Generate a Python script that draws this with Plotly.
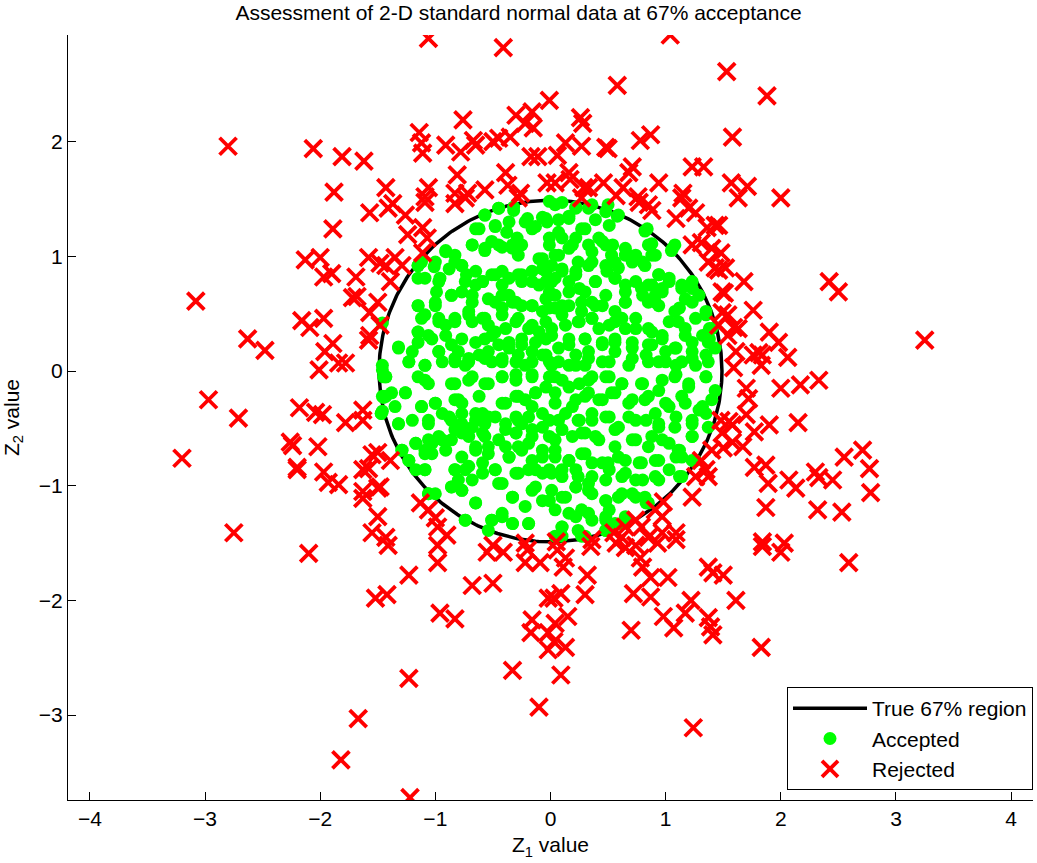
import numpy as np
import plotly.graph_objects as go

title_text = "Assessment of 2-D standard normal data at 67% acceptance"
x_ticks = [-4, -3, -2, -1, 0, 1, 2, 3, 4]
y_ticks = [-3, -2, -1, 0, 1, 2]
region_radius = [1.489]

accepted_x_a = [
 -0.57,-0.45,-0.32,-0.20,-0.07,-0.03,-0.16,-0.62,-0.48,-0.38,-0.29,-0.68,-0.57,-0.51,-0.42,-0.33,-0.28,-0.07,-0.01,-0.91,
 -0.83,-1.01,-1.15,-0.96,-0.77,-0.73,-0.65,-0.59,-0.99,-0.86,-0.77,-0.68,-0.51,-0.42,-0.42,-0.36,-0.28,-0.25,-0.16,-0.04,
 -0.10,-0.01,-0.48,-0.42,-0.33,-0.25,-0.16,-0.07,-0.01,-1.15,-1.00,-1.09,-0.97,-0.91,-0.83,-0.71,-0.68,-0.59,-0.54,-0.48,
 -0.57,-0.39,-0.30,-0.19,-0.10,-0.04,-1.15,-1.06,-1.15,-1.32,-1.20,-0.97,-0.86,-0.80,-0.71,-0.62,-0.54,-0.45,-0.36,-0.25,
 -0.16,-0.07,-1.23,-1.09,-0.94,-0.83,-0.74,-0.51,-0.42,-0.30,-0.22,-0.01,-1.46,-1.12,-1.15,-1.46,-1.45,-1.45,-1.47,
 0.04,0.22,0.36,0.50,0.59,0.84,0.16,0.30,0.07,0.22,0.42,0.48,0.36,0.16,0.04,0.24,0.36,0.53,0.65,0.74,
 0.85,0.91,0.82,0.71,0.59,0.49,0.39,0.22,0.10,0.01,0.16,0.30,0.36,0.45,0.56,0.65,0.79,0.85,0.94,0.97,
 0.91,1.03,1.06,1.08,1.23,1.14,1.17,1.29,1.35,1.26,1.08,0.94,0.85,0.65,0.56,0.27,0.16,0.04,0.01,0.13,
 0.24,0.36,0.42,0.56,0.65,0.74,0.85,0.97,1.11,1.17,1.32,1.40,1.37,1.43,1.23,1.08,1.00,0.88,0.71,0.56,
 0.45,0.30,0.16,0.07,0.22,0.33,0.45,0.56,0.71,0.85,1.00,1.14,1.26,1.37,0.01,0.16,0.30,
 -1.43,-1.09,-0.86,-0.68,-0.54,-0.42,-0.30,-0.16,-0.04,-1.46,-1.38,-1.26,-1.35,-1.47,-1.12,-1.00,-0.94,-0.83,-0.77,-0.65,
 -0.59,-0.48,-0.39,-0.30,-0.22,-0.13,-0.16,-0.07,-0.30,-0.25,-0.16,-0.07,-1.32,-1.20,-1.06,-0.86,-0.77,-0.68,-0.57,-0.39,
 -0.30,-0.77,-0.86,-0.94,-1.03,-1.17,-1.29,-1.23,-1.09,-1.03,-0.65,-0.54,-0.57,-0.39,-0.28,-0.19,-0.07,-0.36,-0.16,-0.83,
 -0.74,-0.59,-0.48,-0.30,-0.19,-0.07,-1.17,-1.09,-0.80,-0.68,-0.45,-0.13,-1.06,-1.00,-0.86,-0.77,-0.65,-0.33,-0.22,-0.07,
 -0.42,-0.51,-0.74,-0.54,-0.33,-0.19,
 0.04,0.16,0.33,0.48,0.62,0.79,0.94,1.08,1.20,1.35,1.43,0.04,0.19,0.30,0.42,0.53,0.68,0.82,0.91,1.03,
 1.17,1.29,1.40,0.07,0.24,0.36,0.48,0.59,0.74,0.94,1.08,1.23,1.37,1.23,0.04,0.19,0.30,0.42,0.56,0.71,
 0.85,0.97,1.11,1.26,1.14,0.04,0.16,0.27,0.36,0.50,0.65,0.79,0.94,1.03,1.14,0.01,0.10,0.24,0.33,0.48,
 0.65,0.74,0.91,0.01,0.13,0.22,0.36,0.48,0.59,0.71,0.82,0.85,0.04,0.16,0.27,0.36,0.48,0.56,0.68,0.10,
 0.24,0.48,0.30,0.10,
]
accepted_y_a = [
 1.36,1.42,1.43,1.33,1.34,1.30,1.24,1.24,1.26,1.21,1.16,1.10,1.05,1.13,1.08,1.07,1.10,0.98,1.10,1.04,
 0.95,0.91,0.92,0.81,0.92,0.84,0.75,0.78,0.69,0.66,0.69,0.66,0.84,0.87,0.75,0.66,0.84,0.78,0.87,0.87,
 0.75,0.69,0.60,0.55,0.60,0.57,0.57,0.52,0.55,0.57,0.60,0.49,0.46,0.40,0.43,0.52,0.43,0.46,0.40,0.34,
 0.28,0.37,0.43,0.37,0.34,0.28,0.34,0.31,0.25,0.20,0.17,0.17,0.23,0.17,0.11,0.14,0.17,0.23,0.20,0.23,
 0.17,0.14,0.08,0.05,0.08,0.08,0.05,0.08,0.11,0.08,0.05,0.08,0.05,0.95,0.81,0.42,-0.05,-0.23,-0.37,
 1.45,1.42,1.45,1.45,1.36,1.24,1.33,1.24,1.21,1.16,1.16,1.10,1.04,1.07,1.01,0.95,0.95,1.01,1.01,1.01,
 1.10,1.01,0.92,0.95,0.90,0.87,0.78,0.84,0.87,0.78,0.69,0.69,0.60,0.57,0.81,0.69,0.72,0.75,0.84,0.72,
 0.66,0.78,1.07,1.10,0.78,0.72,0.63,0.66,0.52,0.46,0.52,0.57,0.60,0.60,0.52,0.52,0.57,0.55,0.37,0.40,
 0.43,0.46,0.37,0.43,0.37,0.46,0.37,0.31,0.43,0.31,0.31,0.37,0.25,0.20,0.17,0.20,0.17,0.23,0.25,0.28,
 0.25,0.28,0.28,0.20,0.14,0.17,0.08,0.17,0.11,0.08,0.08,0.08,0.05,0.08,0.05,0.05,0.05,
 -0.05,-0.08,-0.11,-0.05,-0.11,-0.05,-0.03,-0.05,-0.14,-0.22,-0.19,-0.19,-0.31,-0.37,-0.31,-0.28,-0.37,-0.25,-0.28,-0.37,
 -0.37,-0.40,-0.28,-0.22,-0.25,-0.19,-0.31,-0.37,-0.40,-0.46,-0.51,-0.49,-0.46,-0.43,-0.46,-0.43,-0.46,-0.49,-0.46,-0.51,
 -0.54,-0.54,-0.60,-0.60,-0.63,-0.63,-0.69,-0.78,-0.69,-0.72,-0.66,-0.66,-0.57,-0.66,-0.66,-0.63,-0.69,-0.75,-0.78,-0.86,
 -0.86,-0.80,-0.86,-0.89,-0.86,-0.89,-0.86,-0.86,-0.95,-0.95,-0.98,-1.01,-1.07,-1.07,-1.01,-1.04,-1.15,-1.10,-1.18,-1.13,
 -1.27,-1.30,-1.30,-1.39,-1.33,-1.33,
 -0.05,-0.14,-0.08,-0.05,-0.11,-0.11,-0.17,-0.05,-0.14,-0.05,-0.17,-0.28,-0.31,-0.22,-0.25,-0.19,-0.28,-0.25,-0.37,-0.31,
 -0.28,-0.34,-0.25,-0.43,-0.43,-0.37,-0.40,-0.49,-0.43,-0.46,-0.49,-0.43,-0.49,-0.57,-0.60,-0.57,-0.54,-0.60,-0.66,-0.60,
 -0.66,-0.60,-0.69,-0.78,-0.75,-0.75,-0.78,-0.72,-0.80,-0.80,-0.78,-0.80,-0.78,-0.86,-0.92,-0.89,-0.86,-0.92,-0.98,-0.95,
 -0.89,-0.95,-0.92,-1.04,-1.10,-1.01,-1.07,-1.13,-1.10,-1.07,-1.10,-1.15,-1.21,-1.24,-1.21,-1.30,-1.27,-1.33,-1.30,-1.36,
 -1.39,-1.39,-1.44,-1.44,
]

accepted_x_b = [
 -0.45,-0.32,-0.57,-0.01,0.10,0.22,0.33,0.48,0.58,
 -0.65,-0.48,-0.36,-0.22,-0.13,-0.04,0.07,0.16,0.27,0.39,0.51,0.82,
 -0.68,-0.57,-0.45,-0.33,-0.25,-0.28,-0.01,0.10,0.19,0.33,0.45,0.54,0.65,0.88,1.05,0.07,-0.10,
 -0.91,-0.83,-1.00,-0.88,-0.77,-0.65,-1.15,-0.07,0.01,0.10,0.22,0.33,0.48,0.56,0.68,0.80,0.88,0.94,1.03,
 -1.09,-0.97,-0.74,-0.59,-0.48,-0.36,-0.25,-0.16,-0.04,0.04,0.16,0.25,0.39,0.56,0.65,0.74,0.88,0.97,1.14,1.23,
 -1.15,-1.00,-0.86,-0.68,-0.54,-0.42,-0.30,-0.16,-0.04,0.04,0.10,0.27,0.39,0.48,0.65,0.80,0.91,1.12,1.23,
 -1.12,-0.97,-0.83,-0.71,-0.57,-0.42,-0.28,-0.16,-0.04,0.10,0.25,0.36,0.51,0.62,0.74,0.88,1.03,1.17,1.35,1.38,
 -1.32,-1.15,-1.03,-0.91,-0.77,-0.65,-0.51,-0.36,-0.25,-0.13,0.01,0.16,0.30,0.45,0.56,0.71,0.85,0.97,1.09,1.23,1.38,
 -1.46,-1.23,-1.09,-0.97,-0.83,-0.71,-0.57,-0.42,-0.28,-0.16,-0.04,0.07,0.22,0.33,0.51,0.68,0.83,0.94,1.09,1.23,1.35,
 -1.43,-1.15,-1.06,-0.83,-0.71,-0.57,-0.42,-0.30,-0.16,-0.01,0.10,0.25,0.36,0.51,0.62,0.80,0.97,1.09,1.20,1.35,
 -1.43,-1.26,-1.12,-1.00,-0.80,-0.62,-0.42,-0.28,-0.13,0.04,0.22,0.33,0.45,0.56,0.71,0.85,1.00,1.14,1.32,
 -1.46,-1.32,-1.06,-0.88,-0.77,-0.65,-0.54,-0.39,-0.28,-0.19,-0.01,0.13,0.25,0.36,0.51,0.68,0.83,0.94,1.09,1.23,1.35,
 -1.17,-1.06,-0.97,-0.83,-0.71,-0.59,-0.45,-0.30,-0.16,-0.01,0.10,0.27,0.39,0.56,0.74,0.88,1.03,1.23,1.12,
 -1.29,-1.23,-1.09,-0.91,-0.77,-0.65,-0.54,-0.36,-0.25,-0.07,0.04,0.16,0.30,0.45,0.59,0.77,0.91,1.09,1.23,
 -1.09,-0.83,-0.71,-0.59,-0.48,-0.28,-0.13,-0.01,0.10,0.22,0.36,0.51,0.62,0.80,0.94,1.12,
 -1.06,-0.86,-0.77,-0.65,-0.42,-0.33,-0.16,-0.01,0.10,0.22,0.33,0.48,0.62,0.74,0.83,0.51,
 -0.74,-0.51,-0.42,-0.33,-0.19,0.10,0.22,0.33,0.48,0.65,
 0.04,0.27,0.48,0.62,
]
accepted_y_b = [
 1.42,1.40,1.36,1.48,1.47,1.43,1.42,1.39,1.35,
 1.24,1.27,1.30,1.30,1.26,1.33,1.32,1.35,1.24,1.32,1.27,1.22,
 1.10,1.07,1.10,1.10,1.10,1.01,1.16,1.16,1.10,1.10,1.13,1.10,1.07,1.11,1.05,1.01,0.98,
 1.05,1.01,0.95,0.89,0.92,0.87,0.92,0.89,0.92,0.89,0.87,0.92,0.92,0.95,1.01,0.95,1.01,0.84,0.81,
 0.81,0.78,0.78,0.78,0.84,0.81,0.84,0.78,0.78,0.81,0.78,0.72,0.78,0.81,0.75,0.78,0.75,0.69,0.75,0.72,
 0.57,0.57,0.66,0.60,0.63,0.66,0.60,0.57,0.63,0.66,0.57,0.60,0.57,0.66,0.60,0.66,0.60,0.55,0.60,
 0.46,0.43,0.46,0.49,0.46,0.49,0.46,0.40,0.43,0.49,0.43,0.46,0.40,0.46,0.37,0.34,0.43,0.37,0.49,0.37,
 0.21,0.34,0.28,0.31,0.28,0.25,0.31,0.25,0.28,0.25,0.31,0.23,0.28,0.23,0.25,0.20,0.23,0.28,0.20,0.25,0.28,
 0.01,0.08,0.05,0.17,0.11,0.08,0.11,0.08,0.14,0.08,0.14,0.08,0.05,0.11,0.08,0.05,0.14,0.08,0.05,0.11,0.14,
 -0.05,-0.05,-0.11,-0.11,-0.08,-0.11,-0.05,-0.08,-0.03,-0.05,-0.08,-0.11,-0.05,-0.05,-0.11,-0.11,-0.08,-0.03,-0.11,-0.05,
 -0.22,-0.19,-0.31,-0.28,-0.25,-0.22,-0.28,-0.22,-0.19,-0.19,-0.25,-0.19,-0.25,-0.19,-0.25,-0.22,-0.28,-0.22,-0.31,
 -0.35,-0.46,-0.43,-0.40,-0.37,-0.43,-0.40,-0.46,-0.43,-0.40,-0.43,-0.37,-0.43,-0.43,-0.40,-0.40,-0.43,-0.49,-0.40,-0.46,-0.37,
 -0.63,-0.60,-0.57,-0.51,-0.57,-0.54,-0.60,-0.54,-0.57,-0.57,-0.51,-0.54,-0.57,-0.51,-0.60,-0.57,-0.63,-0.57,-0.69,
 -0.69,-0.78,-0.72,-0.69,-0.75,-0.69,-0.72,-0.75,-0.69,-0.75,-0.69,-0.78,-0.72,-0.80,-0.75,-0.80,-0.78,-0.75,-0.78,
 -0.86,-0.86,-0.83,-0.89,-0.86,-0.89,-0.86,-0.86,-0.92,-0.86,-0.92,-0.86,-0.92,-0.95,-0.95,-0.92,
 -1.07,-1.01,-1.04,-1.15,-0.98,-1.10,-1.04,-1.13,-1.10,-1.01,-1.04,-1.13,-1.07,-1.10,-1.15,-1.21,
 -1.30,-1.30,-1.24,-1.33,-1.33,-1.36,-1.27,-1.24,-1.30,-1.27,
 -1.44,-1.44,-1.39,-1.33,
]

rejected_x = [
 -1.06,-0.41,-0.01,-0.30,-0.16,-0.22,-0.15,-0.76,-1.14,-1.12,-1.11,-0.91,-0.78,-0.67,-0.65,-0.50,-0.45,-0.35,-0.17,-0.11,
 -2.80,-2.06,-1.81,-1.62,-1.88,-1.43,-1.06,-1.09,-0.81,-0.83,-0.72,-0.57,-0.39,-0.37,-0.26,-0.03,-1.37,
 1.04,1.53,0.58,1.88,0.26,0.28,0.13,0.27,0.06,0.48,0.50,0.78,0.87,1.58,0.16,0.71,0.68,1.23,1.33,
 1.57,1.71,0.04,0.17,0.29,0.33,0.46,0.63,0.94,1.15,0.76,2.00,1.63,
 -1.57,-1.89,-2.13,-2.00,-1.97,-1.90,-1.69,-1.58,-1.48,-1.72,-1.68,-1.50,-1.57,-1.57,-1.58,-3.08,-2.16,-2.09,-1.97,-2.63,
 -2.48,-1.89,-1.96,-1.84,-1.78,-2.01,-2.97,-2.71,-2.18,-2.04,-1.98,-1.78,-1.63,-1.63,-3.20,-2.26,-2.24,-2.02,-2.20,-2.20,
 -1.97,-1.93,-1.84,-1.63,-1.58,-1.55,-1.63,-1.63,-1.50,-1.50,-1.55,-2.75,
 1.46,1.48,1.52,1.46,1.68,1.51,2.42,2.50,1.76,1.54,1.59,1.63,1.54,1.90,1.98,1.61,1.76,1.81,1.84,1.83,
 2.06,1.59,3.25,1.70,1.72,2.00,2.17,2.33,1.55,1.58,1.70,1.77,1.90,2.15,1.50,1.58,1.67,1.77,1.87,1.89,
 2.07,2.13,2.30,2.33,2.45,2.55,2.71,2.77,2.78,1.87,2.32,2.53,1.84,2.03,
 -2.10,-1.41,-0.98,-0.98,-0.55,-0.41,-0.20,-0.22,-0.09,-1.23,-1.52,-1.42,-0.68,-0.50,-0.96,-0.83,-0.16,-0.17,-0.02,-0.02,
 -0.02,-0.33,-1.23,-0.10,-1.67,-1.82,-1.22,
 0.06,0.13,0.11,0.35,0.57,0.65,0.74,0.93,1.09,0.78,0.80,0.32,0.87,1.02,1.37,1.41,1.50,1.84,2.00,2.59,
 0.09,0.03,0.30,0.72,0.87,1.22,1.61,0.98,1.17,1.07,1.37,1.39,1.41,0.15,0.04,0.70,1.83,0.03,0.13,0.09,1.24,
 -1.41,-1.26,-1.09,-0.83,-0.74,-0.28,-1.24,-1.11,-1.07,-1.11,-1.35,-1.43,-1.29,-1.39,-1.48,
 0.27,0.57,0.77,0.85,0.88,1.14,1.20,1.26,1.09,1.36,1.43,1.23,1.31,1.40,1.37,1.43,1.49,1.46,1.49,
 -1.50,-1.39,-1.48,-1.13,-1.06,-1.00,-0.98,-0.90,-1.43,-0.50,-0.22,
 1.48,1.49,1.40,1.31,1.35,1.26,1.37,1.23,0.98,0.91,0.97,0.74,0.79,0.65,0.55,0.62,0.85,1.09,0.97,0.36,0.05,
]
rejected_y = [
 2.90,2.82,2.36,2.23,2.26,2.16,2.12,2.19,2.08,1.99,1.90,1.97,1.91,2.01,1.97,2.00,2.03,2.04,1.87,1.87,
 1.96,1.94,1.87,1.83,1.56,1.60,1.60,1.52,1.71,1.55,1.55,1.58,1.73,1.62,1.55,1.64,1.46,
 2.93,2.61,2.49,2.40,2.21,2.16,1.99,1.96,1.88,1.95,1.94,2.01,2.06,2.04,1.73,1.78,1.73,1.78,1.78,
 1.64,1.61,1.64,1.67,1.60,1.60,1.64,1.60,1.64,1.55,1.52,1.51,1.51,
 1.38,1.24,0.97,0.99,0.82,0.85,0.82,0.99,0.94,0.64,0.65,0.60,0.51,0.31,0.27,0.61,0.44,0.38,0.46,0.28,
 0.18,0.24,0.17,0.07,0.07,0.01,-0.25,-0.41,-0.32,-0.36,-0.38,-0.45,-0.34,-0.43,-0.76,-0.62,-0.65,-0.66,-0.84,-0.86,
 -0.88,-0.97,-0.99,-0.86,-0.85,-0.73,-1.05,-1.11,-1.02,-1.27,-1.41,-1.41,
 1.27,1.03,0.90,0.88,0.78,0.68,0.78,0.69,0.53,0.49,0.38,0.37,0.31,0.34,0.25,0.17,0.14,0.16,0.14,0.05,
 0.12,0.03,0.27,-0.15,-0.24,-0.15,-0.12,-0.08,-0.44,-0.47,-0.38,-0.53,-0.47,-0.45,-0.67,-0.62,-0.66,-0.84,-0.82,-0.98,
 -0.95,-1.02,-0.88,-0.93,-0.95,-0.75,-0.69,-0.85,-1.06,-1.19,-1.21,-1.23,-1.49,-1.50,
 -1.59,-1.52,-1.52,-1.67,-1.58,-1.58,-1.56,-1.67,-1.67,-1.78,-1.98,-1.95,-1.87,-1.85,-2.11,-2.16,-2.17,-2.28,-1.98,-2.28,
 -2.43,-2.61,-2.68,-2.93,-3.03,-3.39,-3.72,
 -1.56,-1.63,-1.71,-1.53,-1.50,-1.54,-1.52,-1.50,-1.47,-1.63,-1.71,-1.78,-1.80,-1.80,-1.71,-1.76,-1.78,-1.53,-1.58,-1.67,
 -1.94,-1.98,-1.95,-1.94,-1.97,-2.00,-2.00,-2.14,-2.11,-2.24,-2.15,-2.23,-2.30,-2.14,-2.20,-2.26,-2.41,-2.36,-2.41,-2.65,-3.11,
 1.42,1.36,1.47,1.46,1.51,1.51,1.19,1.25,1.16,1.03,0.99,0.92,0.92,0.78,0.40,
 1.51,1.53,1.47,1.45,1.40,1.51,1.42,1.38,1.33,1.25,1.27,1.10,1.12,1.07,0.95,0.90,0.69,0.40,0.51,
 -0.71,-0.78,-1.01,-1.15,-1.21,-1.28,-1.36,-1.43,-1.45,-1.52,-1.50,
 -0.43,-0.54,-0.69,-0.78,-0.86,-0.92,-0.92,-1.10,-1.14,-1.21,-1.27,-1.30,-1.36,-1.36,-1.41,-1.45,-1.45,-1.41,-1.41,-1.47,-1.49,
]

accepted_x = accepted_x_a + accepted_x_b
accepted_y = accepted_y_a + accepted_y_b

theta = np.linspace(0, 2 * np.pi, 361)
cx = region_radius[0] * np.cos(theta)
cy = region_radius[0] * np.sin(theta)

font_family = "Liberation Sans"

fig = go.Figure()
fig.add_trace(go.Scatter(x=cx, y=cy, mode="lines", name="True 67% region",
                         line=dict(color="black", width=3.5), hoverinfo="skip"))
fig.add_trace(go.Scatter(x=accepted_x, y=accepted_y, mode="markers", name="Accepted",
                         marker=dict(color="#00ff00", size=13, line=dict(width=0))))
fig.add_trace(go.Scatter(x=rejected_x, y=rejected_y, mode="markers", name="Rejected",
                         marker=dict(symbol="x-thin", size=17, color="#ff0000",
                                     line=dict(color="#ff0000", width=3.8))))

fig.update_layout(
    width=1037, height=863,
    margin=dict(l=68, r=4, t=35, b=63, autoexpand=False),
    paper_bgcolor="white", plot_bgcolor="white",
    font=dict(family=font_family, size=21, color="black"),
    title=dict(text=title_text, x=0.5, xanchor="center", y=0.994, yanchor="top",
               automargin=False,
               font=dict(size=21, family=font_family, color="black")),
    showlegend=True,
    legend=dict(x=1, xanchor="right", y=0.013, yanchor="bottom",
                bgcolor="white", bordercolor="black", borderwidth=1,
                font=dict(size=21, family=font_family), itemwidth=74,
                tracegroupgap=0, entrywidth=199, entrywidthmode="pixels"),
    xaxis=dict(range=[-4.19, 4.19], tickvals=x_ticks, ticks="inside", ticklen=8,
               showgrid=False, zeroline=False, showline=True, linecolor="black",
               linewidth=1, mirror=False, tickcolor="black", automargin=False,
               title=dict(text="Z<sub>1</sub> value", standoff=8, font=dict(size=21)),
               tickfont=dict(size=21)),
    yaxis=dict(range=[-3.74, 2.93], tickvals=y_ticks, ticks="inside", ticklen=8,
               showgrid=False, zeroline=False, showline=True, linecolor="black",
               linewidth=1, mirror=False, tickcolor="black", automargin=False,
               title=dict(text="Z<sub>2</sub> value", standoff=14, font=dict(size=21)),
               tickfont=dict(size=21)),
)

fig.write_html("out.html", config={"displayModeBar": False},
               post_script="document.body.style.margin='0';document.body.style.overflow='hidden';")
